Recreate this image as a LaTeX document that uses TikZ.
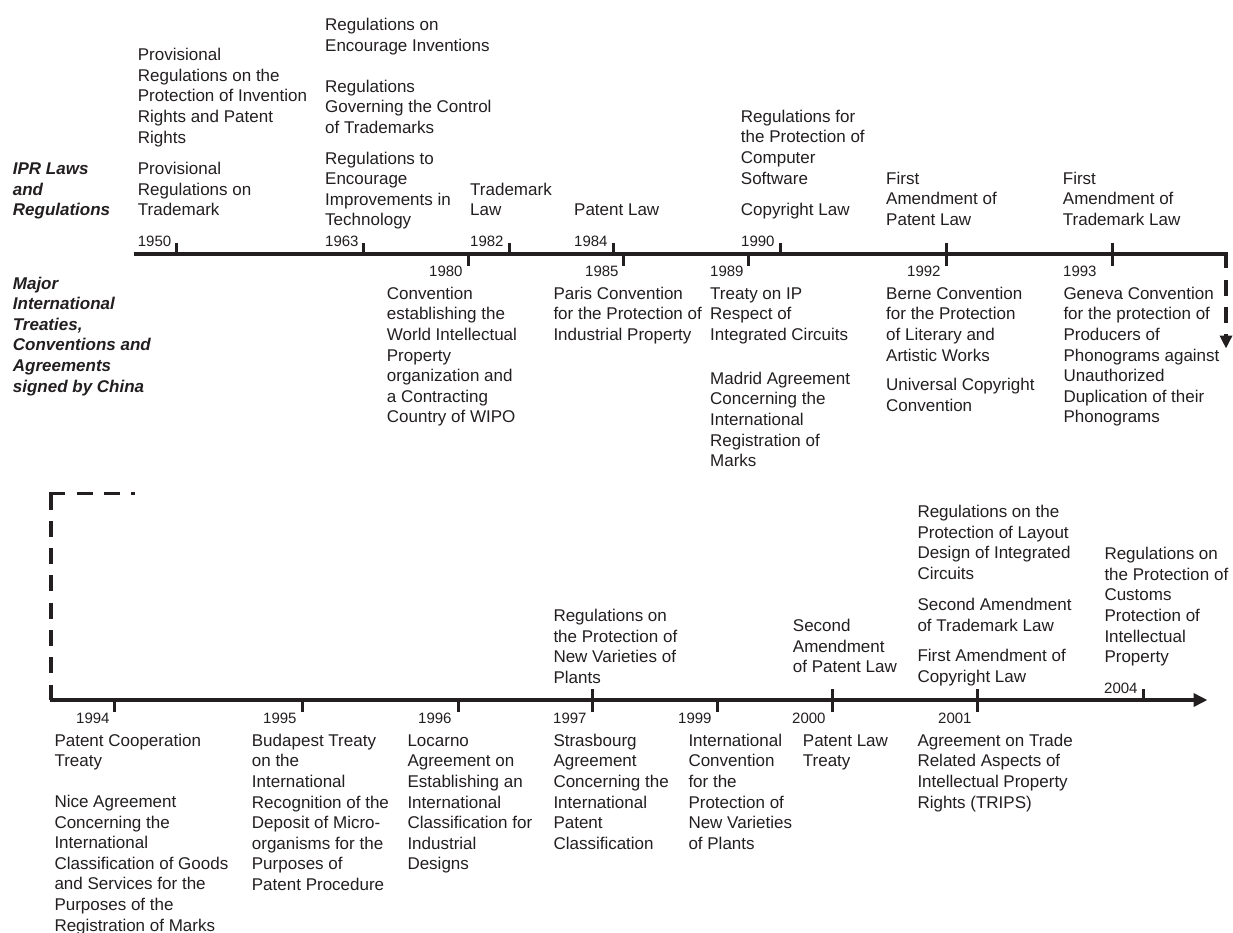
\documentclass[tikz,border=0pt]{standalone}
\usepackage{fontspec}
\setmainfont{Liberation Sans}
\usetikzlibrary{arrows.meta}
\definecolor{ink}{HTML}{231F20}
\tikzset{
  txt/.style={anchor=north west, yshift=14.42pt, inner sep=0pt, align=left,
    font=\fontsize{17}{20.6}\selectfont, text=ink},
  ttl/.style={txt, font=\fontsize{17}{20.6}\selectfont\bfseries\itshape},
  yr/.style={anchor=base west, inner sep=0pt, font=\fontsize{15}{18}\selectfont, text=ink},
  axis/.style={draw=ink, line width=3.5pt},
  tick/.style={draw=ink, line width=3pt},
  dashaxis/.style={draw=ink, line width=3.8pt, dash pattern=on 16pt off 11.3pt},
}
\newcommand{\tup}[2]{\draw[tick] (#1,#2) -- ++(0,-11);}
\newcommand{\tdn}[2]{\draw[tick] (#1,#2) -- ++(0,12);}
\newcommand{\tbo}[2]{\draw[tick] (#1,#2) ++(0,-11) -- ++(0,23);}
\begin{document}
\begin{tikzpicture}[x=1pt,y=-1pt]
\useasboundingbox[fill=white] (0,0) rectangle (1233,933);

% ---- axes ----
\coordinate (a1s) at (133.5,254);
\coordinate (a1e) at (1227.75,254);
\coordinate (c1) at (1226,252.25);
\coordinate (c1end) at (1226,348.5);
\draw[axis] (a1s) -- (a1e);
\draw[dashaxis, -{Triangle[length=13pt,width=12pt]}] (c1) -- (c1end);

\coordinate (c2) at (51.3,493.5);
\coordinate (c2h) at (49.4,493.5);
\coordinate (c2top) at (135,493.5);
\coordinate (c2bot) at (51.3,700);
\coordinate (a2s) at (49.55,700);
\coordinate (a2e) at (1207.5,700);
\draw[dashaxis] (c2) -- (c2bot);
\draw[dashaxis] (c2h) -- (c2top);
\draw[axis, -{Triangle[length=14pt,width=13pt]}] (a2s) -- (a2e);

% ---- ticks, top axis ----
\tup{176}{254}\tup{363}{254}\tup{509}{254}\tup{613}{254}\tup{780}{254}
\tdn{468}{254}\tdn{623}{254}\tdn{748}{254}
\tbo{946}{254}\tbo{1112}{254}
% ---- ticks, bottom axis ----
\tup{1143}{700}
\tdn{114}{700}\tdn{302}{700}\tdn{458}{700}\tdn{717}{700}
\tbo{592}{700}\tbo{832}{700}\tbo{977}{700}

% ---- year labels ----
\node[yr] (y1950) at (137.7,246.5) {1950};
\node[yr] (y1963) at (325,246.5) {1963};
\node[yr] (y1982) at (470,246.5) {1982};
\node[yr] (y1984) at (574,246.5) {1984};
\node[yr] (y1990) at (741,246.5) {1990};
\node[yr] (y1980) at (429,276.5) {1980};
\node[yr] (y1985) at (585,276.5) {1985};
\node[yr] (y1989) at (710,276.5) {1989};
\node[yr] (y1992) at (907,276.5) {1992};
\node[yr] (y1993) at (1063,276.5) {1993};
\node[yr] (y2004) at (1104,693) {2004};
\node[yr] (y1994) at (76,723.5) {1994};
\node[yr] (y1995) at (263,723.5) {1995};
\node[yr] (y1996) at (418,723.5) {1996};
\node[yr] (y1997) at (553,723.5) {1997};
\node[yr] (y1999) at (678,723.5) {1999};
\node[yr] (y2000) at (792,723.5) {2000};
\node[yr] (y2001) at (938,723.5) {2001};

% ---- titles ----
\node[ttl] (t1) at (12.7,174.5) {\strut IPR Laws\\and\\Regulations};
\node[ttl] (t2) at (12.7,288.8) {\strut Major\\International\\Treaties,\\Conventions and\\Agreements\\signed by China};

% ---- laws, top ----
\node[txt] (l1) at (137.7,60.5) {\strut Provisional\\Regulations on the\\Protection of Invention\\Rights and Patent\\Rights};
\node[txt] (l2) at (137.7,174.5) {\strut Provisional\\Regulations on\\Trademark};
\node[txt] (l3) at (325,30.5) {\strut Regulations on\\Encourage Inventions};
\node[txt] (l4) at (325,92) {\strut Regulations\\Governing the Control\\of Trademarks};
\node[txt] (l5) at (325,164) {\strut Regulations to\\Encourage\\Improvements in\\Technology};
\node[txt] (l6) at (470,195) {\strut Trademark\\Law};
\node[txt] (l7) at (574,215.5) {\strut Patent Law};
\node[txt] (l8) at (740.7,122.2) {\strut Regulations for\\the Protection of\\Computer\\Software};
\node[txt] (l9) at (740.7,215.5) {\strut Copyright Law};
\node[txt] (l10) at (886,184) {\strut First\\Amendment of\\Patent Law};
\node[txt] (l11) at (1062.7,184) {\strut First\\Amendment of\\Trademark Law};

% ---- treaties, top ----
\node[txt] (r1) at (386.7,299) {\strut Convention\\establishing the\\World Intellectual\\Property\\organization and\\a Contracting\\Country of WIPO};
\node[txt] (r2) at (553.3,299) {\strut Paris Convention\\for the Protection of\\Industrial Property};
\node[txt] (r3) at (710,299) {\strut Treaty on IP\\Respect of\\Integrated Circuits};
\node[txt] (r4) at (710,384) {\strut Madrid Agreement\\Concerning the\\International\\Registration of\\Marks};
\node[txt] (r5) at (886,299) {\strut Berne Convention\\for the Protection\\of Literary and\\Artistic Works};
\node[txt] (r6) at (886,390.5) {\strut Universal Copyright\\Convention};
\node[txt] (r7) at (1063.3,299) {\strut Geneva Convention\\for the protection of\\Producers of\\Phonograms against\\Unauthorized\\Duplication of their\\Phonograms};

% ---- laws, bottom ----
\node[txt] (l12) at (553.3,621.5) {\strut Regulations on\\the Protection of\\New Varieties of\\Plants};
\node[txt] (l13) at (792.7,631.5) {\strut Second\\Amendment\\of Patent Law};
\node[txt] (l14) at (917.3,517.2) {\strut Regulations on the\\Protection of Layout\\Design of Integrated\\Circuits};
\node[txt] (l15) at (917.3,610.5) {\strut Second Amendment\\of Trademark Law};
\node[txt] (l16) at (917.3,661.5) {\strut First Amendment of\\Copyright Law};
\node[txt] (l17) at (1104.3,559.5) {\strut Regulations on\\the Protection of\\Customs\\Protection of\\Intellectual\\Property};

% ---- treaties, bottom ----
\node[txt] (r8) at (54.3,746) {\strut Patent Cooperation\\Treaty};
\node[txt] (r9) at (54.3,807.2) {\strut Nice Agreement\\Concerning the\\International\\Classification of Goods\\and Services for the\\Purposes of the\\Registration of Marks};
\node[txt] (r10) at (251.7,746) {\strut Budapest Treaty\\on the\\International\\Recognition of the\\Deposit of Micro-\\organisms for the\\Purposes of\\Patent Procedure};
\node[txt] (r11) at (407.3,746) {\strut Locarno\\Agreement on\\Establishing an\\International\\Classification for\\Industrial\\Designs};
\node[txt] (r12) at (553.3,746) {\strut Strasbourg\\Agreement\\Concerning the\\International\\Patent\\Classification};
\node[txt] (r13) at (688.3,746) {\strut International\\Convention\\for the\\Protection of\\New Varieties\\of Plants};
\node[txt] (r14) at (802.7,746) {\strut Patent Law\\Treaty};
\node[txt] (r15) at (917.3,746) {\strut Agreement on Trade\\Related Aspects of\\Intellectual Property\\Rights (TRIPS)};
\end{tikzpicture}
\end{document}
